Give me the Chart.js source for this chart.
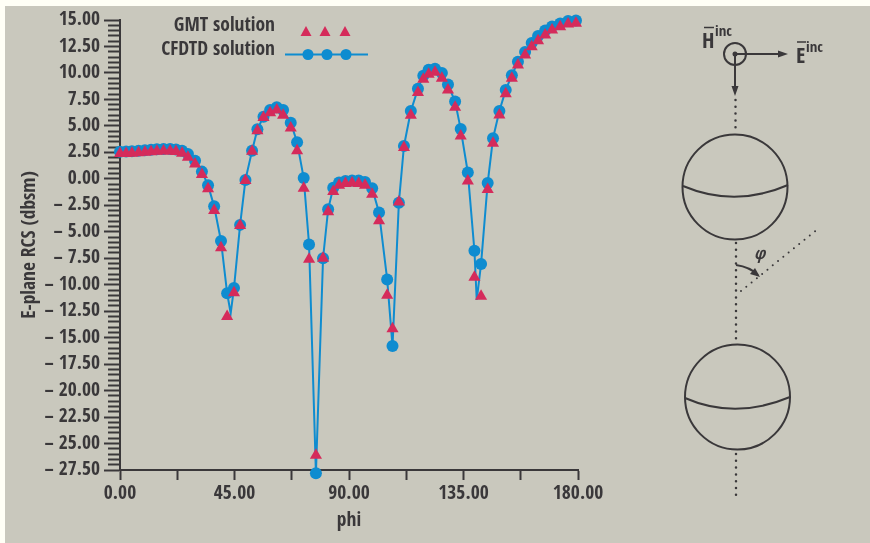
<!DOCTYPE html>
<html>
<head>
<meta charset="utf-8">
<script src="https://cdn.jsdelivr.net/npm/chart.js@4"></script>
<style>
  html, body { margin: 0; padding: 0; background: #c9c8bd; }
  #wrap { position: relative; width: 870px; height: 543px; overflow: hidden; }
  #wrap canvas { position: absolute; left: 0; top: 0; }
  #edgeTop { position: absolute; left: 0; top: 0; width: 870px; height: 6px; background: #fffff6; }
  #edgeLeft { position: absolute; left: 0; top: 0; width: 5px; height: 543px; background: #fffff6; }
  #diagram { position: absolute; left: 0; top: 0; }
  #diagram text { font-family: "Open Sans Condensed", "Open Sans", sans-serif; font-weight: bold; fill: #3a383a; }
</style>
</head>
<body>
<div id="wrap">
  <div id="edgeTop"></div>
  <div id="edgeLeft"></div>
  <canvas id="rcs-chart" width="870" height="543"></canvas>
  <!-- Geometry sketch next to the plot -->
  <svg id="diagram" width="870" height="543" fill="none" stroke="#3a383a" stroke-width="2">
    <circle cx="735" cy="54" r="11"/>
    <circle cx="735" cy="54" r="2.5" fill="#3a383a" stroke="none"/>
    <path d="M735 54H780M735 54V88"/>
    <path d="M788 54L778 50.5V57.5ZM735 96L731.5 86H738.5Z" fill="#3a383a" stroke="none"/>
    <circle cx="735" cy="187" r="52.5"/>
    <path d="M683 186Q735 208 788 185"/>
    <circle cx="737.5" cy="397" r="52.5"/>
    <path d="M685 398Q735 420 790 397"/>
    <g stroke-width="2.5" stroke-linecap="round" stroke-dasharray="0 6.8">
      <path d="M735.5 100V130"/>
      <path d="M736 243V339"/>
      <path d="M736 454V496"/>
      <path d="M741 291L819 228" stroke-width="2"/>
    </g>
    <path d="M736 265Q750 267 758 275"/>
    <path d="M760 277L750 274L755 268Z" fill="#3a383a" stroke="none"/>
    <text x="702" y="48" font-size="22" stroke="none">H</text>
    <path d="M704 27.5H714" stroke-width="1.5"/>
    <text x="715" y="36" font-size="15" stroke="none">inc</text>
    <text x="796" y="63" font-size="22" stroke="none">E</text>
    <path d="M797 42H806" stroke-width="1.5"/>
    <text x="806" y="52" font-size="15" stroke="none">inc</text>
    <text x="754" y="259" font-size="17" stroke="none" font-style="italic">φ</text>
  </svg>
</div>
<script>
// Phi of each sample (degrees)
const phi = [
    0, 2.4, 4.7, 7.3, 9.8, 12.2, 14.5, 17.1, 19.7, 22, 24.4, 26.7, 29.5, 32.2, 34.6, 37,
    39.7, 42.1, 44.8, 47.2, 49.3, 51.9, 54, 56.4, 59, 61.6, 64.1, 67.1, 69.6, 72.2, 74.3, 77, 79.8, 81.8, 83.8,
    86.1, 88.6, 91.2, 93.8, 96.3,
    99.1, 101.8, 105, 107.1, 109.6, 111.6, 114.3, 117.1, 119.2, 121.3, 123.8, 126.5, 128.9, 131.7, 133.9, 136.7,
    139.3, 141.9, 144.5, 146.6, 149.1, 151.6, 154,
    156.4, 159.2, 161.8, 164.3, 167.1, 169.8, 173, 176.1, 179.2
];

const gmtValues = [
    2.38, 2.4, 2.42, 2.47, 2.52, 2.56, 2.6, 2.62, 2.63, 2.58, 2.41, 2.03, 1.4, 0.42, -0.93, -3.0,
    -6.5, -13.0, -10.75, -4.4, -0.15, 2.6, 4.55, 5.8, 6.25, 6.5, 6.0, 4.8, 2.66, -0.9, -7.6, -26.1, -7.5, -3.1, -1.2,
    -0.6, -0.45, -0.4, -0.45, -0.6,
    -1.46, -3.95, -11, -14.15, -2.2, 2.96, 6.0, 8.15, 9.4, 9.87, 10.06, 9.5, 8.4, 6.76, 4.05, -0.2,
    -9.3, -11.1, -1.0, 3.36, 6.03, 8.04, 9.5,
    10.75, 11.7, 12.48, 13.05, 13.58, 14.06, 14.37, 14.62, 14.69
];

const cfdtdValues = [
    2.55, 2.58, 2.6, 2.65, 2.7, 2.75, 2.8, 2.82, 2.82, 2.78, 2.65, 2.35, 1.7, 0.68, -0.6, -2.6,
    -5.87, -10.8, -10.3, -4.35, -0.1, 2.66, 4.68, 5.87, 6.5, 6.76, 6.5, 5.3, 3.45, 0.07, -6.2, -27.8, -7.5, -2.88, -0.84,
    -0.35, -0.2, -0.15, -0.15, -0.3,
    -0.9, -3.17, -9.5, -15.8, -2.25, 3.1, 6.4, 8.5, 9.74, 10.3, 10.4, 10.0, 8.9, 7.3, 4.7, 0.6,
    -6.8, -8.05, -0.4, 3.83, 6.4, 8.4, 9.78,
    11.06, 11.98, 12.83, 13.49, 14.0, 14.39, 14.67, 14.9, 14.95
];

// The curve dips below the markers at these two places
const curveDipPhi = [43.5, 140.2];
const curveDipValues = [-12.7, -11.44];

// Colours
const inkColor = '#3a383a';
const gmtColor = '#d52b5b';
const cfdtdColor = '#0e8cd0';
const fontFamily = '"Open Sans Condensed", "Open Sans", sans-serif';
const fontSize = 19.5;

function toPoints(xs, ys) {
    return xs.map((x, i) => ({ x: x, y: ys[i] }));
}

// Line through the CFDTD samples plus the two dips
const curvePoints = toPoints(phi, cfdtdValues)
    .concat(toPoints(curveDipPhi, curveDipValues))
    .sort((a, b) => a.x - b.x);

function isMajorY(value) {
    return Math.abs(value / 2.5 - Math.round(value / 2.5)) < 1e-6;
}

function formatY(value) {
    const text = Math.abs(value).toFixed(2);
    return value < 0 ? '\u2013 ' + text : text;
}

// Legend sits inside the plot, text first and samples after it
const sampleLegend = {
    id: 'sampleLegend',
    afterDraw(chart) {
        const ctx = chart.ctx;
        ctx.save();
        ctx.font = 'bold ' + fontSize + 'px ' + fontFamily;
        ctx.fillStyle = inkColor;
        ctx.textAlign = 'right';
        ctx.textBaseline = 'middle';
        ctx.fillText('GMT solution', 275, 26);
        ctx.fillText('CFDTD solution', 275, 50);

        ctx.fillStyle = gmtColor;
        [306, 325, 345].forEach((x) => {
            ctx.beginPath();
            ctx.moveTo(x, 26);
            ctx.lineTo(x + 5.5, 36);
            ctx.lineTo(x - 5.5, 36);
            ctx.closePath();
            ctx.fill();
        });

        ctx.strokeStyle = cfdtdColor;
        ctx.lineWidth = 2;
        ctx.beginPath();
        ctx.moveTo(285, 54.5);
        ctx.lineTo(368, 54.5);
        ctx.stroke();
        ctx.fillStyle = cfdtdColor;
        [308, 327, 346].forEach((x) => {
            ctx.beginPath();
            ctx.arc(x, 54.5, 5.5, 0, Math.PI * 2);
            ctx.fill();
        });
        ctx.restore();
    }
};

new Chart(document.getElementById('rcs-chart'), {
    type: 'scatter',
    data: {
        datasets: [
            {
                label: 'GMT solution',
                data: toPoints(phi, gmtValues),
                pointStyle: 'triangle',
                pointRadius: 7,
                pointBackgroundColor: gmtColor,
                pointBorderWidth: 0,
                showLine: false,
                clip: false,
                order: 1
            },
            {
                label: 'CFDTD solution',
                data: toPoints(phi, cfdtdValues),
                pointStyle: 'circle',
                pointRadius: 6,
                pointBackgroundColor: cfdtdColor,
                pointBorderWidth: 0,
                showLine: false,
                clip: false,
                order: 2
            },
            {
                label: 'CFDTD curve',
                data: curvePoints,
                showLine: true,
                borderColor: cfdtdColor,
                borderWidth: 2,
                pointRadius: 0,
                tension: 0,
                clip: false,
                order: 3
            }
        ]
    },
    options: {
        responsive: false,
        animation: false,
        layout: {
            padding: { left: 0, top: 20, right: 292, bottom: 0 }
        },
        plugins: {
            legend: { display: false },
            tooltip: { enabled: false }
        },
        scales: {
            x: {
                type: 'linear',
                min: 0,
                max: 180,
                afterFit(scale) { scale.height = 73; },
                afterBuildTicks(scale) {
                    scale.ticks = [0, 22.5, 45, 67.5, 90, 112.5, 135, 157.5, 180].map((v) => ({ value: v }));
                },
                border: { color: inkColor, width: 2 },
                grid: { drawOnChartArea: false, color: inkColor, tickColor: inkColor, tickLength: 10, tickWidth: 2 },
                ticks: {
                    autoSkip: false,
                    maxRotation: 0,
                    padding: 2,
                    color: inkColor,
                    font: { family: fontFamily, size: fontSize, weight: 'bold' },
                    callback: (value) => (value % 45 === 0 ? value.toFixed(2) : '')
                },
                title: {
                    display: true,
                    text: 'phi',
                    color: inkColor,
                    padding: { top: 0, bottom: 10 },
                    font: { family: fontFamily, size: fontSize, weight: 'bold' }
                }
            },
            y: {
                type: 'linear',
                min: -27.5,
                max: 15,
                afterFit(scale) { scale.width = 120; },
                border: { color: inkColor, width: 2 },
                grid: {
                    drawOnChartArea: false,
                    color: inkColor,
                    tickColor: inkColor,
                    tickLength: 16,
                    tickWidth: 2,
                    // Minor ticks are shorter: blank the first 4px of them
                    tickBorderDash: (ctx) => (isMajorY(ctx.tick.value) ? [] : [0, 4, 12, 0])
                },
                ticks: {
                    stepSize: 0.5,
                    autoSkip: false,
                    padding: 4,
                    color: inkColor,
                    font: { family: fontFamily, size: fontSize, weight: 'bold' },
                    callback: (value) => (isMajorY(value) ? formatY(value) : '')
                },
                title: {
                    display: true,
                    text: 'E-plane RCS (dbsm)',
                    color: inkColor,
                    padding: { top: 18, bottom: 0 },
                    font: { family: fontFamily, size: fontSize, weight: 'bold' }
                }
            }
        }
    },
    plugins: [sampleLegend]
});
</script>
</body>
</html>
